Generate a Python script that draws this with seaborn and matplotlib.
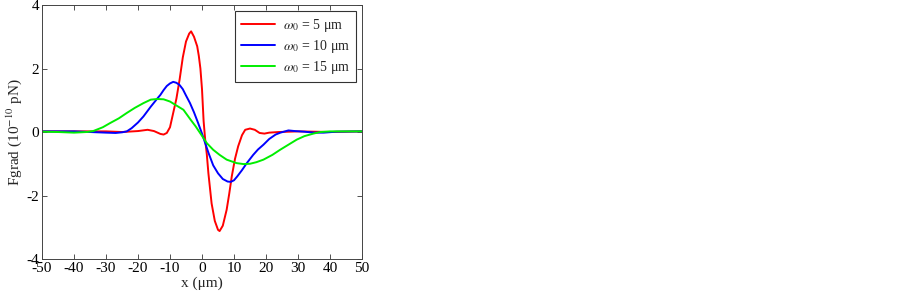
import matplotlib
matplotlib.use("Agg")
import matplotlib.pyplot as plt
import pandas as pd
import seaborn as sns

# values
x_w5 = [-50, -40, -30, -25, -20, -17, -15, -13, -12, -11, -10, -9, -8, -7, -6, -5, -4, -3.4,
        -2.5, -1.5, -1, -0.5, 0, 0.5, 1, 1.5, 2, 3, 4, 5, 5.5, 6.5, 7.7, 8.5, 9.3, 10.3, 11.3,
        12.5, 13.5, 15, 16.5, 18, 19.5, 21, 24, 30, 40, 50]
y_w5 = [0.02, 0.02, 0.02, 0.0, 0.03, 0.07, 0.03, -0.06, -0.08, -0.03, 0.15, 0.6, 1.05, 1.65,
        2.35, 2.85, 3.1, 3.17, 3.0, 2.7, 2.4, 2.0, 1.35, 0.35, -0.25, -0.7, -1.3, -2.25, -2.8,
        -3.08, -3.12, -2.95, -2.45, -1.95, -1.4, -0.85, -0.45, -0.1, 0.07, 0.11, 0.07, -0.03,
        -0.05, -0.02, 0.0, 0.02, 0.0, 0.02]

x_w10 = [-50, -45, -40, -35, -30, -27, -25, -23.5, -22, -20, -18.3, -16, -14, -13, -12, -11,
         -10, -9, -8, -7, -6, -5, -3.75, -2.5, -1.2, 0, 1, 2, 3.5, 5, 6.5, 8, 9, 10, 11, 12.5,
         14, 16, 17.5, 19.2, 21, 23, 24.5, 27, 29, 32, 35, 38, 42, 50]
y_w10 = [0.02, 0.02, 0.02, 0.0, -0.02, -0.03, -0.01, 0.02, 0.12, 0.3, 0.49, 0.8, 1.05, 1.17,
         1.32, 1.45, 1.53, 1.58, 1.55, 1.48, 1.35, 1.15, 0.91, 0.62, 0.28, -0.05, -0.35, -0.65,
         -1.05, -1.3, -1.48, -1.56, -1.57, -1.52, -1.4, -1.2, -0.98, -0.72, -0.55, -0.4, -0.22,
         -0.08, -0.02, 0.05, 0.03, 0.01, -0.02, -0.02, 0.01, 0.02]

x_w15 = [-50, -45, -40, -36, -34, -31, -28.75, -26, -23.5, -21, -18.3, -16, -14, -12, -10,
         -8.4, -5.8, -3.5, -2, -0.6, 1.5, 3.5, 5.5, 7.7, 10.8, 13, 15, 17, 19.2, 22, 24.4, 27,
         29.6, 32, 34.8, 37, 40, 45, 50]
y_w15 = [0.01, 0.0, -0.02, 0.0, 0.03, 0.15, 0.28, 0.43, 0.6, 0.76, 0.91, 1.02, 1.04, 1.03,
         0.96, 0.86, 0.70, 0.38, 0.18, -0.03, -0.35, -0.56, -0.72, -0.87, -0.98, -1.01, -1.0,
         -0.95, -0.87, -0.72, -0.56, -0.4, -0.24, -0.13, -0.05, 0.0, 0.02, 0.02, 0.02]

labels = [r"$\omega_0$ = 5 μm", r"$\omega_0$ = 10 μm", r"$\omega_0$ = 15 μm"]
colors = ["#FF0000", "#0000FF", "#00EE00"]

df = pd.concat([
    pd.DataFrame({"x": x_w5, "F": y_w5, "beam": labels[0]}),
    pd.DataFrame({"x": x_w10, "F": y_w10, "beam": labels[1]}),
    pd.DataFrame({"x": x_w15, "F": y_w15, "beam": labels[2]}),
])

sns.set_theme(style="ticks")
plt.rcParams["font.family"] = ["Liberation Serif", "DejaVu Serif"]
plt.rcParams["mathtext.fontset"] = "stix"
plt.rcParams["axes.unicode_minus"] = False

fig = plt.figure(figsize=(9.03, 2.95), dpi=100)
ax = fig.add_axes([0.0465, 0.122, 0.3544, 0.861])

sns.lineplot(data=df, x="x", y="F", hue="beam", palette=colors, sort=False,
             linewidth=1.4, ax=ax)

ax.set_xlim(-50, 50)
ax.set_ylim(-4, 4)
ax.set_xticks(range(-50, 51, 10))
ax.set_yticks(range(-4, 5, 2))
ax.tick_params(direction="in", top=True, right=True, labelsize=11, length=3.5,
               width=0.6, colors="#333333", labelcolor="black", pad=2)
for s in ax.spines.values():
    s.set_linewidth(0.7)
    s.set_color("#444444")

ax.set_xlabel("x (μm)", fontsize=11, labelpad=1)
ax.set_ylabel("Fgrad (10$^{-10}$ pN)", fontsize=11, labelpad=2)

leg = ax.legend(loc="upper right", fontsize=10, frameon=True, fancybox=False,
                edgecolor="black", handlelength=2.4, handletextpad=0.6, borderpad=0.45,
                labelspacing=0.3, borderaxespad=0.4)
leg.get_frame().set_linewidth(0.8)
leg.set_title(None)

fig.savefig("out.png", dpi=100)
